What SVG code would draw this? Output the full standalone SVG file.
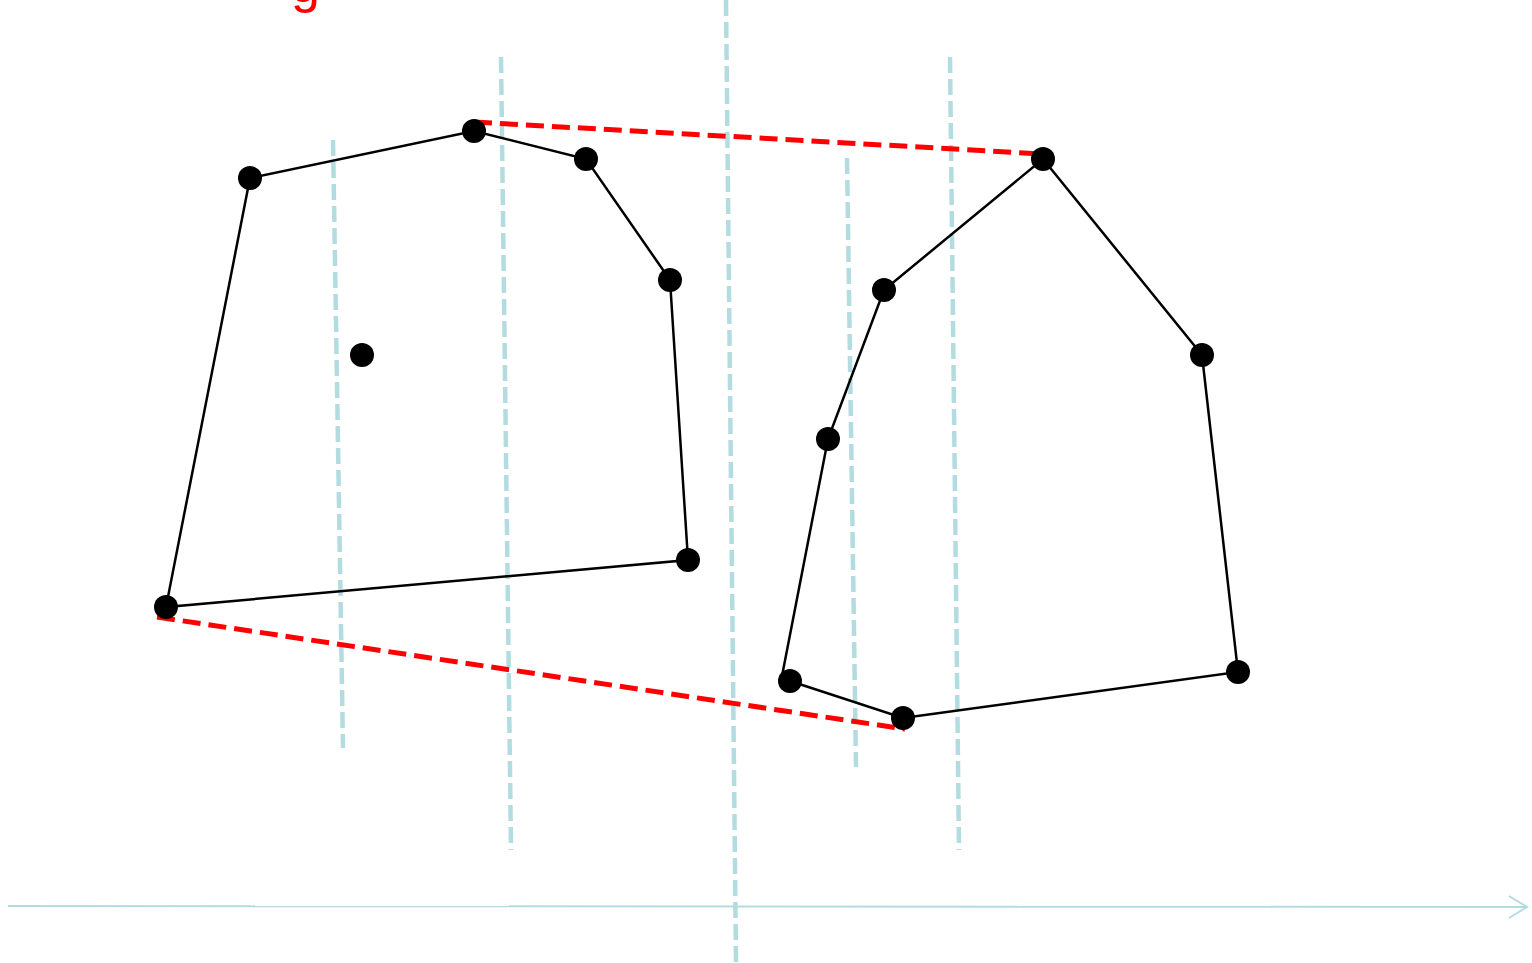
<svg xmlns="http://www.w3.org/2000/svg" width="1532" height="963" viewBox="0 0 1532 963">
<style>
.guide{stroke:#b3dce0;stroke-width:4.5;stroke-dasharray:16 6;fill:none}
.axis{stroke:#b3dce0;stroke-width:2;fill:none}
.edge{stroke:#000;stroke-width:2.5;fill:none}
.bridge{stroke:#ff0000;stroke-width:5;stroke-dasharray:18 8;fill:none}
.pt{fill:#000}
.title{font-family:"Liberation Sans",Arial,sans-serif;font-size:52px;fill:#ff0000}
</style>
<defs>
<marker id="open" markerWidth="24" markerHeight="28" refX="20" refY="12" orient="auto" markerUnits="userSpaceOnUse">
<path d="M2,1 L20,12 L2,23" stroke="#b3dce0" stroke-width="2" fill="none"/>
</marker>
</defs>
<rect width="1532" height="963" fill="#fff"/>
<text class="title" x="291" y="2">g</text>
<g id="guides">
<line class="guide" x1="333" y1="140" x2="343" y2="748"/>
<line class="guide" x1="501" y1="57" x2="511" y2="850"/>
<line class="guide" x1="726" y1="0" x2="736" y2="963"/>
<line class="guide" x1="847" y1="158" x2="856" y2="767"/>
<line class="guide" x1="950" y1="57" x2="959" y2="850"/>
</g>
<g id="axis">
<line class="axis" x1="8" y1="906" x2="1527" y2="907" marker-end="url(#open)"/>
</g>
<g id="connectors">
<polyline class="edge" points="250,178 474,131 586,159 670,280 688,560 166,607 250,178"/>
<polyline class="edge" points="1043,159 884,290 828,439 782,676"/>
<polyline class="edge" points="790,681 903,718 1238,672 1202,355 1043,159"/>
<line class="bridge" x1="474" y1="122" x2="1043" y2="154"/>
<line class="bridge" x1="157" y1="617" x2="905" y2="729"/>
</g>
<g id="p1"><circle class="pt" cx="250" cy="178" r="12"/></g>
<g id="p2"><circle class="pt" cx="474" cy="131" r="12"/></g>
<g id="p3"><circle class="pt" cx="586" cy="159" r="12"/></g>
<g id="p4"><circle class="pt" cx="670" cy="280" r="12"/></g>
<g id="p5"><circle class="pt" cx="688" cy="560" r="12"/></g>
<g id="p6"><circle class="pt" cx="166" cy="607" r="12"/></g>
<g id="p7"><circle class="pt" cx="362" cy="355" r="12"/></g>
<g id="q1"><circle class="pt" cx="1043" cy="159" r="12"/></g>
<g id="q2"><circle class="pt" cx="884" cy="290" r="12"/></g>
<g id="q3"><circle class="pt" cx="828" cy="439" r="12"/></g>
<g id="q4"><circle class="pt" cx="790" cy="681" r="12"/></g>
<g id="q5"><circle class="pt" cx="903" cy="718" r="12"/></g>
<g id="q6"><circle class="pt" cx="1238" cy="672" r="12"/></g>
<g id="q7"><circle class="pt" cx="1202" cy="355" r="12"/></g>
</svg>
